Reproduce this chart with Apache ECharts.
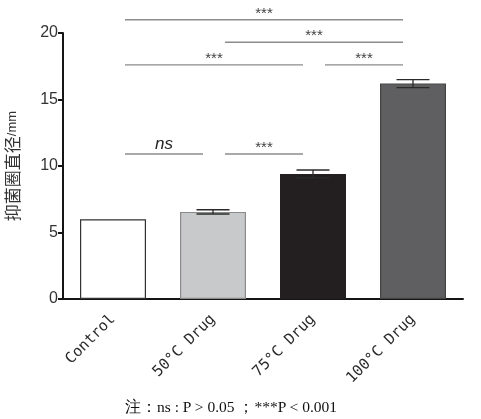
<!DOCTYPE html>
<html>
<head>
<meta charset="utf-8">
<script src="https://cdn.jsdelivr.net/npm/echarts@6/dist/echarts.min.js"></script>
<style>
  html, body { margin: 0; padding: 0; background: #fff; }
  #box { width: 481px; height: 419px; position: relative; }
  #note { position: absolute; left: 125px; top: 397px; white-space: nowrap;
          font: 15.5px "Liberation Serif", "DejaVu Serif", serif; color: #111; }
</style>
</head>
<body>
<div id="box"><div id="chart" style="width:481px;height:419px"></div>
<div id="note">注：ns : P &gt; 0.05 ；***P &lt; 0.001</div></div>
<script>
const categories = ['Control', '50°C Drug', '75°C Drug', '100°C Drug']
const means = [6.0, 6.55, 9.4, 16.2]
const errors = [0, 0.16, 0.3, 0.3]
const yTicks = [0, 5, 10, 15, 20]

// comparisons: [from category, to category, height (mm), label]
const comparisons = [
    [0, 3, 21.0, '***'],
    [1, 3, 19.3, '***'],
    [0, 2, 17.6, '***'],
    [2, 3, 17.6, '***'],
    [0, 1, 10.9, 'ns'],
    [1, 2, 10.9, '***']
]

const barColors = ['#ffffff', '#c8c9cb', '#231f20', '#5f5f61']
const barBorders = ['#333333', '#8a8a8a', '#231f20', '#444444']

const chart = echarts.init(document.getElementById('chart'))

chart.setOption({
    animation: false,
    grid: { left: 63, right: 18, top: 33, bottom: 120, outerBoundsMode: 'none' },
    xAxis: {
        type: 'category',
        data: categories,
        axisLine: { lineStyle: { color: '#151515', width: 2 } },
        axisTick: { alignWithLabel: true, length: 6, lineStyle: { color: '#151515', width: 2 } },
        axisLabel: {
            rotate: 45, margin: 18, color: '#2a2a2a',
            fontFamily: 'DejaVu Sans Mono', fontSize: 15
        }
    },
    yAxis: {
        type: 'value',
        min: yTicks[0], max: yTicks[yTicks.length - 1], interval: 5,
        name: '{a|抑菌圈直径}{b|/mm}',
        nameLocation: 'middle', nameRotate: 90, nameGap: 42,
        nameTextStyle: {
            rich: {
                a: { fontSize: 17, color: '#333', fontFamily: 'Noto Sans CJK SC' },
                b: { fontSize: 13, color: '#333', fontFamily: 'Liberation Sans' }
            }
        },
        axisLine: { show: true, lineStyle: { color: '#151515', width: 2 } },
        axisTick: { show: true, length: 5, lineStyle: { color: '#151515', width: 2 } },
        axisLabel: { margin: 5, color: '#333', fontFamily: 'Liberation Sans', fontSize: 16 },
        splitLine: { show: false }
    },
    series: [
        {
            type: 'bar',
            barCategoryGap: '34%',
            data: means.map((v, i) => ({
                value: v,
                itemStyle: { color: barColors[i], borderColor: barBorders[i], borderWidth: 1.2 }
            }))
        },
        {
            type: 'custom',
            z: 5,
            data: means.map((v, i) => [i, v - errors[i], v + errors[i]]),
            renderItem(params, api) {
                if (api.value(2) === api.value(1)) return null
                const lo = api.coord([api.value(0), api.value(1)])
                const hi = api.coord([api.value(0), api.value(2)])
                const half = api.size([1, 0])[0] * 0.165
                const style = { stroke: '#2a2a2a', lineWidth: 1.3 }
                return {
                    type: 'group',
                    children: [
                        { type: 'line', shape: { x1: hi[0], y1: hi[1], x2: lo[0], y2: lo[1] }, style },
                        { type: 'line', shape: { x1: hi[0] - half, y1: hi[1], x2: hi[0] + half, y2: hi[1] }, style },
                        { type: 'line', shape: { x1: lo[0] - half, y1: lo[1], x2: lo[0] + half, y2: lo[1] }, style }
                    ]
                }
            }
        }
    ]
})

// significance brackets
const graphics = []
comparisons.forEach(([a, b, h, label]) => {
    const p1 = chart.convertToPixel({ gridIndex: 0 }, [a, h])
    const p2 = chart.convertToPixel({ gridIndex: 0 }, [b, h])
    const x1 = p1[0] + 12, x2 = p2[0] - 10
    graphics.push({
        type: 'line',
        shape: { x1, y1: p1[1], x2, y2: p1[1] },
        style: { stroke: '#8c8c8c', lineWidth: 1.4 }
    })
    const ns = label === 'ns'
    graphics.push({
        type: 'text',
        x: (x1 + x2) / 2, y: p1[1] - (ns ? 10 : 6),
        style: {
            text: label, align: 'center', verticalAlign: 'middle',
            fill: ns ? '#222' : '#444',
            font: ns ? 'italic 17px "Liberation Sans"' : '15px "Liberation Sans"'
        }
    })
})
chart.setOption({ graphic: { elements: graphics } })
</script>
</body>
</html>
